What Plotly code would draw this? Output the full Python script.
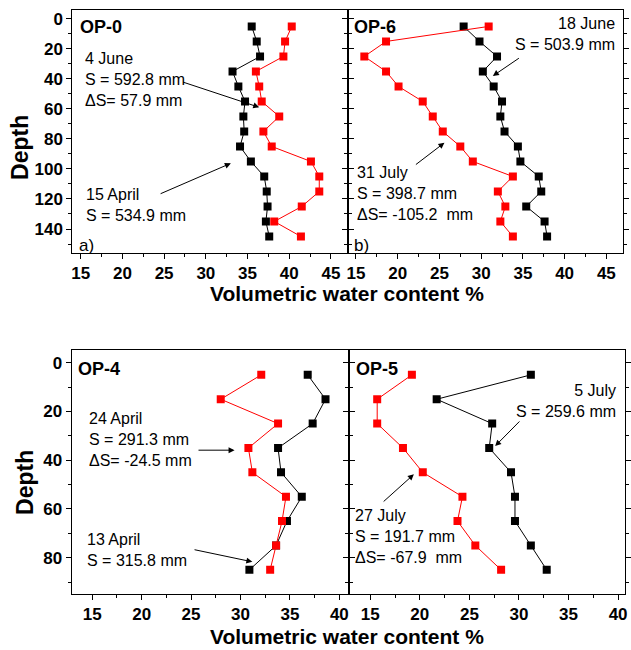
import plotly.graph_objects as go

# ---------------- data ----------------
depth_top = [5, 15, 25, 35, 45, 55, 65, 75, 85, 95, 105, 115, 125, 135, 145]
op0_black = [35.5, 36.1, 36.5, 33.2, 33.9, 34.7, 34.5, 34.6, 34.1, 35.4, 37.0, 37.3, 37.4, 37.2, 37.6]
op0_red = [40.3, 39.5, 39.3, 36.0, 36.4, 36.7, 38.8, 36.9, 37.9, 42.6, 43.6, 43.6, 41.5, 38.2, 41.4]
op6_black = [27.9, 29.8, 31.9, 30.2, 31.5, 32.5, 32.3, 32.8, 34.4, 34.7, 36.9, 37.2, 35.4, 37.6, 37.9]
op6_red = [30.9, 18.6, 16.0, 18.6, 20.1, 23.0, 24.2, 25.4, 27.5, 29.0, 33.8, 32.0, 32.9, 32.3, 33.8]

depth_bot = [5, 15, 25, 35, 45, 55, 65, 75, 85]
op4_black = [36.8, 38.6, 37.3, 33.8, 34.1, 36.2, 34.7, 33.6, 30.9]
op4_red = [32.1, 28.0, 33.8, 30.8, 31.2, 34.6, 34.2, 33.6, 33.0]
op5_black = [31.2, 21.7, 27.3, 27.0, 29.2, 29.6, 29.6, 31.2, 32.8]
op5_red = [19.2, 15.7, 15.7, 18.3, 20.3, 24.3, 23.8, 25.6, 28.2]

x_ticks_top = [15, 20, 25, 30, 35, 40, 45]
x_ticks_bot = [15, 20, 25, 30, 35, 40]
y_ticks_top = [0, 20, 40, 60, 80, 100, 120, 140]
y_ticks_bot = [0, 20, 40, 60, 80]

W, H = 631, 650
FONT = "Liberation Sans, Arial, sans-serif"
RED = "#ff0000"


def px(x):
    return x / W


def py(y):
    return 1 - y / H


fig = go.Figure()

panels = [
    # name, xaxis, yaxis, depth, black, red
    ("OP-0", "x", "y", depth_top, op0_black, op0_red),
    ("OP-6", "x2", "y2", depth_top, op6_black, op6_red),
    ("OP-4", "x3", "y3", depth_bot, op4_black, op4_red),
    ("OP-5", "x4", "y4", depth_bot, op5_black, op5_red),
]

for name, xa, ya, d, blk, red in panels:
    fig.add_trace(go.Scatter(x=blk, y=d, xaxis=xa, yaxis=ya, mode="lines+markers",
                             line=dict(color="black", width=1),
                             marker=dict(symbol="square", size=8, color="black"),
                             showlegend=False, name=name + " black"))
    fig.add_trace(go.Scatter(x=red, y=d, xaxis=xa, yaxis=ya, mode="lines+markers",
                             line=dict(color=RED, width=1),
                             marker=dict(symbol="square", size=8, color=RED),
                             showlegend=False, name=name + " red"))


def xaxis_cfg(dom, rng, ticks):
    return dict(domain=dom, range=rng, tickvals=ticks, ticktext=[str(t) for t in ticks],
                showgrid=False, zeroline=False, showline=True, linecolor="black", linewidth=1,
                mirror=True, ticks="outside", ticklen=5, tickwidth=1, tickcolor="black",
                minor=dict(dtick=2.5, tick0=15, ticks="outside", ticklen=3, tickcolor="black"),
                tickfont=dict(family=FONT, size=17, color="black", weight="bold"))


def yaxis_cfg(dom, rng, ticks, anchor, show_labels):
    return dict(domain=dom, range=rng, anchor=anchor, tickvals=ticks,
                ticktext=[str(t) for t in ticks], showticklabels=show_labels,
                showgrid=False, zeroline=False, showline=True, linecolor="black", linewidth=1,
                mirror="ticks", ticks="outside", ticklen=5, tickwidth=1, tickcolor="black",
                minor=dict(dtick=10, tick0=0, ticks="outside", ticklen=3, tickcolor="black"),
                tickfont=dict(family=FONT, size=17, color="black", weight="bold"))


top_dom = [py(253), py(9.5)]
bot_dom = [py(594), py(350)]

fig.update_layout(
    width=W, height=H, margin=dict(l=0, r=0, t=0, b=0),
    paper_bgcolor="white", plot_bgcolor="white",
    xaxis=dict(**xaxis_cfg([px(71.7), px(348.3)], [14, 47], x_ticks_top), anchor="y"),
    xaxis2=dict(**xaxis_cfg([px(348.3), px(625)], [14, 47], x_ticks_top), anchor="y2"),
    xaxis3=dict(**xaxis_cfg([px(71), px(349.5)], [12.92, 40.96], x_ticks_bot), anchor="y3"),
    xaxis4=dict(**xaxis_cfg([px(349.5), px(627)], [12.84, 40.7], x_ticks_bot), anchor="y4"),
    yaxis=yaxis_cfg(top_dom, [156, -6.3], y_ticks_top, "x", True),
    yaxis2=yaxis_cfg(top_dom, [156, -6.3], y_ticks_top, "x2", False),
    yaxis3=yaxis_cfg(bot_dom, [94.9, -5.2], y_ticks_bot, "x3", True),
    yaxis4=yaxis_cfg(bot_dom, [94.9, -5.2], y_ticks_bot, "x4", False),
)

ann = []


def text(x, y, s, size=16, bold=False, xanchor="left", align="left"):
    ann.append(dict(x=px(x), y=py(y), xref="paper", yref="paper", text=s, showarrow=False,
                    xanchor=xanchor, yanchor="middle", align=align,
                    font=dict(family=FONT, size=size, color="black",
                              weight="bold" if bold else "normal")))


def arrow(xa, ya, x0, y0, x1, y1):
    ann.append(dict(x=x1, y=y1, ax=x0, ay=y0, xref=xa, yref=ya, axref=xa, ayref=ya,
                    text="", showarrow=True, arrowhead=2, arrowsize=1.2, arrowwidth=1,
                    arrowcolor="black", standoff=0))


# panel labels
text(77, 27, "OP-0", 18, True)
text(353, 27, "OP-6", 18, True)
text(75, 368.5, "OP-4", 18, True)
text(355, 368.5, "OP-5", 18, True)
text(76, 245, "a)", 17)
text(353, 245, "b)", 17)

# OP-0
text(82, 79, "4 June<br>S = 592.8 mm<br>\u0394S= 57.9 mm")
arrow("x", "y", 27.1, 41.8, 36.4, 58.9)
text(83, 205, "15 April<br>S = 534.9 mm")
arrow("x", "y", 24.4, 116.9, 33.0, 96.2)

# OP-6
text(619, 33.5, "18 June<br>S = 503.9 mm", xanchor="right", align="right")
arrow("x2", "y2", 34.7, 25.5, 31.4, 38.0)
text(356, 193.5, "31 July<br>S = 398.7 mm<br>\u0394S= -105.2  mm")
arrow("x2", "y2", 22.0, 97.8, 25.6, 82.5)

# OP-4
text(86, 439.5, "24 April<br>S = 291.3 mm<br>\u0394S= -24.5 mm")
arrow("x3", "y3", 25.6, 35.9, 29.4, 35.9)
text(84, 550, "13 April<br>S = 315.8 mm")
arrow("x3", "y3", 25.2, 76.6, 31.2, 81.7)

# OP-5
text(620, 400.5, "5 July<br>S = 259.6 mm", xanchor="right", align="right")
arrow("x4", "y4", 30.2, 23.5, 27.6, 34.2)
text(354, 536.5, "27 July<br>S = 191.7 mm<br>\u0394S= -67.9  mm")
arrow("x4", "y4", 16.2, 57.5, 19.4, 45.8)

# axis titles
for yc in (293, 636):
    ann.append(dict(x=px(348), y=py(yc), xref="paper", yref="paper",
                    text="Volumetric water content %", showarrow=False,
                    xanchor="center", yanchor="middle",
                    font=dict(family=FONT, size=21, color="black", weight="bold")))
for xc, yc in ((19, 147), (24, 482)):
    ann.append(dict(x=px(xc), y=py(yc), xref="paper", yref="paper", text="Depth",
                    showarrow=False, textangle=-90, xanchor="center", yanchor="middle",
                    font=dict(family=FONT, size=23, color="black", weight="bold")))

fig.update_layout(annotations=ann)

fig.write_html("out.html", config={"displayModeBar": False},
               post_script="document.body.style.margin='0';document.body.style.overflow='hidden';")
